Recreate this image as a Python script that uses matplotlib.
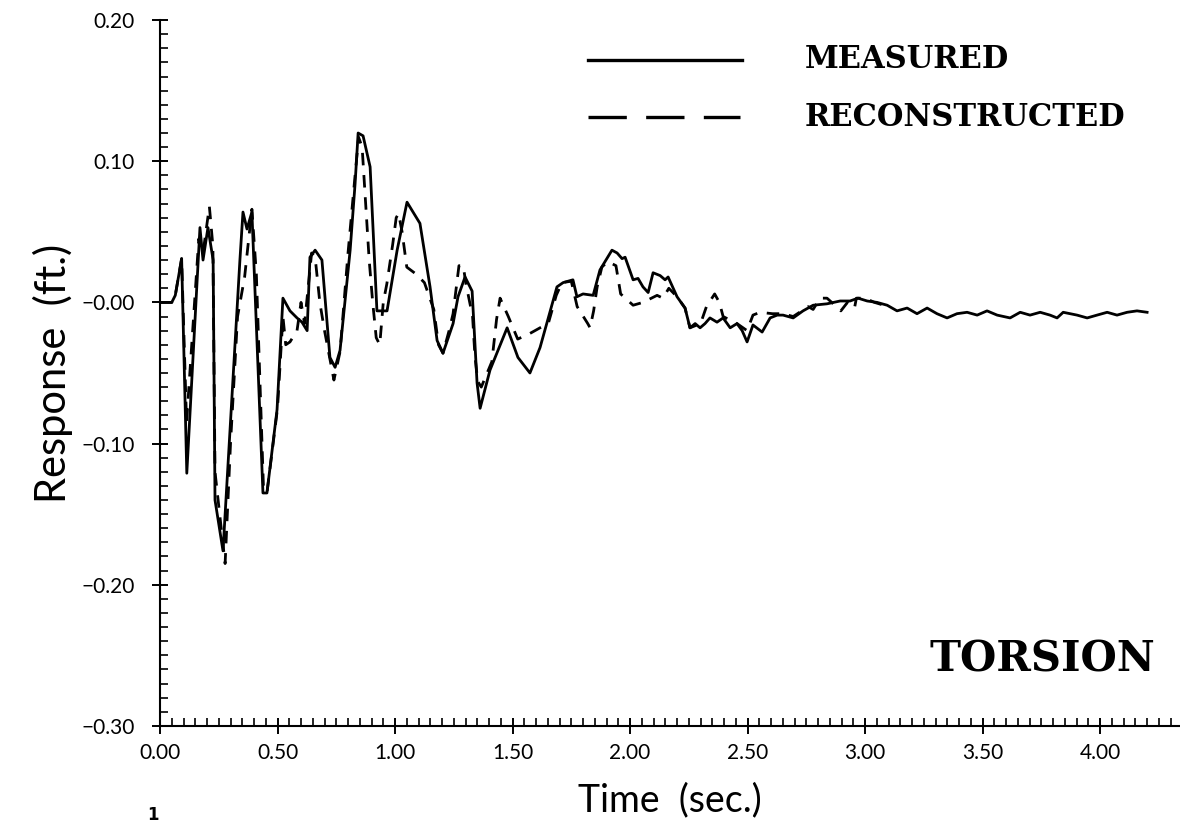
import matplotlib
matplotlib.use("Agg")
import matplotlib.pyplot as plt
from matplotlib.lines import Line2D
from matplotlib.ticker import MultipleLocator

# Measured torsion response (time in s, response in ft.)
t_meas = [0.0, 0.05, 0.065, 0.092, 0.114, 0.170, 0.183, 0.204, 0.226, 0.234,
          0.268, 0.340, 0.353, 0.370, 0.391, 0.438, 0.455, 0.498, 0.523, 0.553,
          0.583, 0.604, 0.626, 0.638, 0.660, 0.689, 0.723, 0.745, 0.766, 0.809,
          0.830, 0.843, 0.864, 0.894, 0.923, 0.966, 1.009, 1.051, 1.106, 1.149,
          1.179, 1.204, 1.247, 1.268, 1.298, 1.328, 1.349, 1.362, 1.404, 1.477,
          1.523, 1.574, 1.617, 1.689, 1.715, 1.757, 1.774, 1.800, 1.843, 1.872,
          1.923, 1.945, 1.966, 1.979, 2.013, 2.034, 2.055, 2.077, 2.098, 2.128,
          2.149, 2.162, 2.200, 2.234, 2.255, 2.277, 2.298, 2.319, 2.340, 2.370,
          2.396, 2.426, 2.455, 2.477, 2.498, 2.523, 2.562, 2.596, 2.626, 2.651,
          2.694, 2.736, 2.779, 2.838, 2.894, 2.936, 2.970, 3.009, 3.051, 3.094,
          3.136, 3.179, 3.221, 3.264, 3.306, 3.349, 3.391, 3.434, 3.477, 3.519,
          3.562, 3.617, 3.660, 3.702, 3.745, 3.787, 3.817, 3.843, 3.902, 3.945,
          3.987, 4.030, 4.072, 4.115, 4.157, 4.200]
y_meas = [0.0, 0.0, 0.005, 0.031, -0.121, 0.053, 0.030, 0.053, 0.030, -0.140,
          -0.176, 0.030, 0.064, 0.052, 0.064, -0.135, -0.135, -0.076, 0.003, -0.006,
          -0.011, -0.014, -0.020, 0.032, 0.037, 0.030, -0.039, -0.046, -0.034, 0.037,
          0.084, 0.120, 0.118, 0.096, -0.006, -0.006, 0.037, 0.071, 0.056, 0.011,
          -0.027, -0.036, -0.015, 0.004, 0.018, 0.008, -0.057, -0.075, -0.048, -0.018,
          -0.039, -0.050, -0.032, 0.011, 0.014, 0.016, 0.004, 0.006, 0.005, 0.023,
          0.037, 0.035, 0.031, 0.032, 0.016, 0.017, 0.011, 0.007, 0.021, 0.019,
          0.016, 0.018, 0.004, -0.004, -0.018, -0.015, -0.018, -0.015, -0.011, -0.014,
          -0.011, -0.018, -0.015, -0.020, -0.028, -0.016, -0.021, -0.011, -0.009, -0.009,
          -0.011, -0.006, -0.002, -0.001, 0.001, 0.001, 0.003, 0.001, 0.0, -0.002,
          -0.006, -0.004, -0.008, -0.004, -0.008, -0.011, -0.008, -0.007, -0.009, -0.006,
          -0.009, -0.011, -0.007, -0.009, -0.007, -0.009, -0.011, -0.007, -0.009, -0.011,
          -0.009, -0.007, -0.009, -0.007, -0.006, -0.007]

# Reconstructed response
t_rec = [0.0, 0.05, 0.065, 0.092, 0.113, 0.165, 0.183, 0.210, 0.225, 0.234,
         0.277, 0.300, 0.330, 0.360, 0.391, 0.410, 0.440, 0.455, 0.500, 0.523,
         0.535, 0.553, 0.583, 0.600, 0.615, 0.630, 0.645, 0.660, 0.680, 0.700,
         0.740, 0.766, 0.800, 0.830, 0.845, 0.860, 0.875, 0.890, 0.905, 0.920,
         0.935, 0.950, 0.965, 0.990, 1.005, 1.015, 1.030, 1.050, 1.090, 1.125,
         1.165, 1.185, 1.204, 1.230, 1.247, 1.258, 1.272, 1.290, 1.302, 1.330,
         1.340, 1.352, 1.367, 1.412, 1.432, 1.447, 1.482, 1.522, 1.574, 1.617,
         1.652, 1.686, 1.710, 1.750, 1.775, 1.820, 1.830, 1.845, 1.860, 1.880,
         1.905, 1.940, 1.960, 2.013, 2.055, 2.115, 2.140, 2.165, 2.200, 2.234,
         2.255, 2.300, 2.325, 2.360, 2.380, 2.396, 2.455, 2.498, 2.523, 2.553,
         2.606, 2.651, 2.694, 2.758, 2.779, 2.808, 2.838, 2.885, 2.897, 2.925,
         2.955, 2.963, 3.000, 3.040, 3.080]
y_rec = [0.0, 0.0, 0.005, 0.031, -0.085, 0.045, 0.035, 0.068, 0.040, -0.120,
         -0.185, -0.100, -0.010, 0.018, 0.066, 0.020, -0.130, -0.135, -0.075, -0.010,
         -0.030, -0.028, -0.020, 0.000, -0.015, 0.010, 0.035, 0.032, 0.000, -0.020,
         -0.055, -0.035, 0.035, 0.090, 0.117, 0.110, 0.070, 0.030, 0.000, -0.025,
         -0.030, 0.000, 0.013, 0.041, 0.060, 0.063, 0.050, 0.025, 0.020, 0.014,
         -0.005, -0.030, -0.036, -0.020, -0.008, 0.007, 0.026, 0.026, 0.013, -0.010,
         -0.038, -0.056, -0.060, -0.042, -0.012, 0.003, -0.010, -0.026, -0.022, -0.018,
         -0.015, 0.005, 0.014, 0.015, -0.003, -0.015, -0.018, -0.006, 0.011, 0.025,
         0.029, 0.026, 0.006, -0.002, 0.000, 0.005, 0.003, 0.010, 0.004, -0.004,
         -0.018, -0.015, -0.003, 0.006, 0.000, -0.010, -0.015, -0.020, -0.009, -0.007,
         -0.008, -0.008, -0.010, -0.003, -0.005, 0.003, 0.003, -0.004, -0.006, 0.000,
         -0.004, 0.003, 0.003, 0.000, -0.002]

x_ticks = [0.0, 0.5, 1.0, 1.5, 2.0, 2.5, 3.0, 3.5, 4.0]
x_labels = ["0.00", "0.50", "1.00", "1.50", "2.00", "2.50", "3.00", "3.50", "4.00"]
y_ticks = [0.20, 0.10, 0.0, -0.10, -0.20, -0.30]
y_labels = ["0.20", "0.10", "\u22120.00", "\u22120.10", "\u22120.20", "\u22120.30"]

sans = dict(family=["Lato", "DejaVu Sans"], fontweight="normal", color="black")
serif_bold = dict(family="DejaVu Serif", fontweight="bold", color="black")

fig = plt.figure(figsize=(11.8, 8.23), dpi=100)
fig.patch.set_facecolor("white")
ax = fig.add_axes([0.1356, 0.118, 0.8644, 0.8576])

ax.plot(t_meas, y_meas, color="black", linewidth=2.0, solid_joinstyle="round")
ax.plot(t_rec, y_rec, color="black", linewidth=2.0, linestyle=(0, (4.5, 3.5)))

ax.set_xlim(0, 4.34)
ax.set_ylim(-0.30, 0.20)
ax.spines["top"].set_visible(False)
ax.spines["right"].set_visible(False)
ax.spines["left"].set_linewidth(1.5)
ax.spines["bottom"].set_linewidth(1.5)

ax.set_xticks(x_ticks)
ax.set_xticklabels(x_labels, fontsize=15, **sans)
ax.set_yticks(y_ticks)
ax.set_yticklabels(y_labels, fontsize=15, **sans)
ax.xaxis.set_minor_locator(MultipleLocator(0.05))
ax.yaxis.set_minor_locator(MultipleLocator(0.01))
ax.tick_params(which="major", direction="inout", length=12, width=1.4, pad=6)
ax.tick_params(axis="y", which="major", pad=12)
ax.tick_params(which="minor", direction="in", length=6, width=1.2)

ax.set_xlabel("Time  (sec.)", fontsize=27, labelpad=14, **sans)
ax.set_ylabel("Response  (ft.)", fontsize=30, labelpad=6, **sans)

# legend drawn by hand, as in the original figure
fig.add_artist(Line2D([588 / 1180, 742 / 1180], [1 - 60 / 823, 1 - 60 / 823],
                      color="black", linewidth=2.4))
fig.add_artist(Line2D([588 / 1180, 740 / 1180], [1 - 117 / 823, 1 - 117 / 823],
                      color="black", linewidth=2.4, linestyle=(0, (11.5, 5.8))))
fig.text(805 / 1180, 1 - 60 / 823, "MEASURED", fontsize=22, va="center", **serif_bold)
fig.text(805 / 1180, 1 - 117 / 823, "RECONSTRUCTED", fontsize=22, va="center",
         **serif_bold)

fig.text(1155 / 1180, 1 - 660 / 823, "TORSION", fontsize=30, ha="right", va="center",
         **serif_bold)
fig.text(153 / 1180, 1 - 815 / 823, "1", fontsize=12, fontweight="bold", ha="center",
         va="center")

fig.savefig("out.png", dpi=100, facecolor="white")
